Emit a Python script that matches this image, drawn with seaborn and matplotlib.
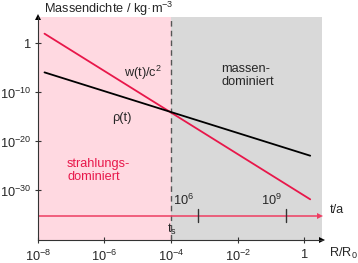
import numpy as np
import pandas as pd
import matplotlib
matplotlib.use("Agg")
import matplotlib.pyplot as plt
import seaborn as sns

# values (log-log)
r_ends = [1.6e-8, 1.5]
w_ends = [10**2.0, 10**-31.8]      # w(t)/c^2
rho_ends = [10**-5.9, 10**-22.9]   # rho(t)
r_eq = 1e-4                        # t_s, equality
t_tick_r = [10**-3.18, 10**-0.55]
t_tick_labels = ["$10^6$", "$10^9$"]
x_ticks = [1e-8, 1e-6, 1e-4, 1e-2, 1]
x_labels = ["$10^{-8}$", "$10^{-6}$", "$10^{-4}$", "$10^{-2}$", "1"]
y_ticks = [1, 1e-10, 1e-20, 1e-30]
y_labels = ["1", "$10^{-10}$", "$10^{-20}$", "$10^{-30}$"]

sns.set_style("ticks")
plt.rcParams["font.family"] = ["Liberation Sans", "DejaVu Sans"]
plt.rcParams["mathtext.fontset"] = "custom"
plt.rcParams["mathtext.rm"] = "Liberation Sans"
plt.rcParams["mathtext.it"] = "Liberation Sans:italic"
plt.rcParams["mathtext.default"] = "regular"

red = "#e8174a"
pink = "#ffd9e1"
grey = "#d9d9d9"
fs = 9.2

W, H = 358, 263
fig = plt.figure(figsize=(W / 100, H / 100), dpi=100)
ax = fig.add_axes([37.7 / W, 1 - 240 / H, (322 - 37.7) / W, (240 - 17) / H])
ax.set_xscale("log")
ax.set_yscale("log")
xmax = 10**0.53
ax.set_xlim(1e-8, xmax)
ax.set_ylim(10**-40.1, 10**5.4)

ax.axvspan(1e-8, r_eq, color=pink, lw=0, zorder=0)
ax.axvspan(r_eq, xmax, color=grey, lw=0, zorder=0)
ax.axvline(r_eq, color="#555555", lw=1, ls=(0, (4, 3)), zorder=1)

df = pd.DataFrame({"R": r_ends * 2,
                   "rho": w_ends + rho_ends,
                   "kind": ["w"] * 2 + ["rho"] * 2})
sns.lineplot(data=df, x="R", y="rho", hue="kind", palette={"w": red, "rho": "black"},
             lw=1.3, legend=False, ax=ax, zorder=3)

# time axis
t_y = 10**-35.2
ax.plot([1e-8, 10**0.48], [t_y, t_y], color="#ee3d62", lw=1.1, zorder=2)
ax.plot([10**0.48], [t_y], marker=">", color="#ee3d62", ms=5, mew=0, zorder=2)
for r, lab in zip(t_tick_r, t_tick_labels):
    ax.plot([r, r], [10**-33.8, 10**-36.5], color="#333333", lw=1, zorder=3)
    ax.text(r / 10**0.12, 10**-33.6, lab, ha="right", va="bottom", fontsize=fs)
ax.text(r_eq * 10**0.03, 10**-36.4, "$t_s$", ha="center", va="top", fontsize=fs)

ax.set_xticks(x_ticks)
ax.set_xticklabels(x_labels)
ax.set_yticks(y_ticks)
ax.set_yticklabels(y_labels)
ax.minorticks_off()
ax.tick_params(direction="inout", length=5, width=0.8, color="#333333", labelsize=fs)
ax.tick_params(axis="x", pad=4)
ax.tick_params(axis="y", pad=2)
ax.set_xlabel("")
ax.set_ylabel("")
sns.despine(ax=ax)
for s in ["left", "bottom"]:
    ax.spines[s].set_color("#333333")
    ax.spines[s].set_linewidth(0.8)
ax.plot([0], [1], marker="^", color="black", ms=5, mew=0, transform=ax.transAxes, clip_on=False)
ax.plot([1], [0], marker=">", color="black", ms=5, mew=0, transform=ax.transAxes, clip_on=False)

ax.text(10**-4.84, 10**-6.1, "w(t)/c$^2$", ha="center", va="center", fontsize=fs)
ax.text(10**-5.47, 10**-15.3, "ρ(t)", ha="center", va="center", fontsize=fs)
ax.text(10**-2.5, 10**-6.6, "massen-\ndominiert", ha="left", va="center", fontsize=fs,
        linespacing=1.1)
ax.text(10**-7.12, 10**-26.0, "strahlungs-\ndominiert", ha="left", va="center", fontsize=fs,
        linespacing=1.1, color=red)

fig.text(44 / W, 1 - 9 / H, "Massendichte / kg·m$^{-3}$", ha="left", va="center", fontsize=fs)
fig.text(330 / W, 1 - 210 / H, "t/a", ha="left", va="center", fontsize=fs)
fig.text(329 / W, 1 - 253 / H, "R/R$_0$", ha="left", va="center", fontsize=fs)

fig.savefig("out.png", dpi=100)
